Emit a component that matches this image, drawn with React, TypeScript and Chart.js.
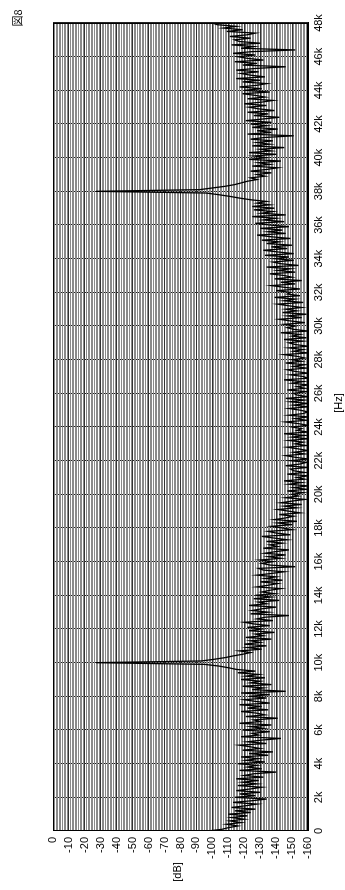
import { useEffect, useRef } from 'react';
import { Chart, registerables } from 'chart.js';

Chart.register(...registerables);

// Spectrum level [dB], one value per 100 Hz step, from 0 Hz to 48 kHz (rows = 1 kHz)
const FREQ_STEP_HZ = 100;
const spectrumDb: number[] = [
  -97, -106, -110, -116, -109, -118, -111, -120, -112, -122,
  -110, -124, -114, -127, -112, -121, -128, -113, -125, -134,
  -114, -127, -117, -130, -115, -124, -131, -116, -128, -119,
  -129, -115, -132, -120, -126, -140, -117, -131, -122, -128,
  -116, -133, -121, -129, -118, -135, -123, -138, -119, -130,
  -124, -117, -134, -122, -131, -143, -118, -129, -125, -136,
  -119, -132, -124, -137, -117, -130, -126, -141, -121, -133,
  -128, -118, -135, -122, -131, -117, -136, -127, -120, -134,
  -123, -136, -118, -146, -125, -132, -119, -137, -124, -130,
  -118, -133, -121, -129, -116, -127, -115, -110, -104, -95,
  -27, -93, -101, -108, -113, -119, -124, -117, -131, -122,
  -134, -120, -130, -124, -137, -121, -132, -127, -139, -123,
  -131, -122, -136, -126, -120, -138, -128, -133, -148, -124,
  -135, -125, -131, -140, -123, -134, -129, -142, -126, -137,
  -127, -139, -131, -136, -143, -128, -135, -141, -130, -144,
  -133, -140, -128, -137, -145, -132, -129, -152, -136, -131,
  -138, -130, -143, -135, -146, -133, -140, -148, -132, -141,
  -136, -144, -134, -147, -139, -131, -149, -140, -135, -150,
  -144, -137, -150, -141, -153, -139, -146, -151, -142, -155,
  -148, -141, -153, -145, -156, -143, -150, -158, -146, -154,
  -150, -157, -147, -159, -151, -160, -148, -156, -145, -158,
  -153, -160, -147, -158, -151, -149, -160, -146, -155, -159,
  -149, -160, -152, -146, -158, -151, -160, -154, -147, -159,
  -152, -157, -148, -160, -150, -158, -145, -160, -153, -156,
  -150, -160, -154, -146, -159, -152, -160, -148, -157, -160,
  -155, -148, -160, -151, -160, -149, -158, -146, -160, -153,
  -151, -159, -147, -158, -153, -160, -150, -157, -145, -160,
  -157, -149, -160, -152, -147, -159, -151, -158, -146, -156,
  -150, -158, -153, -145, -160, -151, -157, -148, -160, -152,
  -148, -157, -145, -159, -150, -155, -143, -160, -151, -147,
  -152, -145, -158, -149, -142, -156, -147, -159, -144, -153,
  -146, -156, -148, -141, -157, -145, -152, -139, -155, -147,
  -149, -140, -155, -145, -137, -152, -143, -156, -139, -150,
  -145, -136, -152, -141, -149, -134, -154, -143, -138, -151,
  -139, -148, -133, -151, -141, -132, -147, -137, -150, -134,
  -142, -131, -149, -137, -128, -146, -135, -144, -130, -148,
  -136, -127, -145, -132, -140, -125, -146, -131, -138, -126,
  -139, -125, -136, -128, -134, -124, -117, -111, -104, -96,
  -27, -92, -100, -108, -114, -118, -122, -128, -124, -133,
  -128, -137, -124, -134, -141, -125, -136, -129, -143, -123,
  -134, -126, -140, -123, -137, -130, -145, -125, -136, -128,
  -138, -124, -133, -151, -122, -137, -128, -141, -125, -134,
  -124, -137, -121, -132, -142, -126, -135, -122, -139, -129,
  -123, -134, -120, -131, -138, -122, -133, -127, -119, -136,
  -120, -131, -117, -128, -134, -119, -130, -115, -133, -124,
  -118, -129, -115, -127, -146, -119, -128, -114, -132, -122,
  -116, -127, -113, -125, -152, -118, -126, -112, -130, -117,
  -114, -124, -111, -122, -127, -109, -119, -107, -115, -103,
  -100,
];

const hzTickValues = [0, 2000, 4000, 6000, 8000, 10000, 12000, 14000, 16000, 18000, 20000, 22000, 24000, 26000, 28000, 30000, 32000, 34000, 36000, 38000, 40000, 42000, 44000, 46000, 48000];
const hzTickLabels = ['0', '2k', '4k', '6k', '8k', '10k', '12k', '14k', '16k', '18k', '20k', '22k', '24k', '26k', '28k', '30k', '32k', '34k', '36k', '38k', '40k', '42k', '44k', '46k', '48k'];
const dbTickValues = [0, -10, -20, -30, -40, -50, -60, -70, -80, -90, -100, -110, -120, -130, -140, -150, -160];
const dbTickLabels = ['0', '-10', '-20', '-30', '-40', '-50', '-60', '-70', '-80', '-90', '-100', '-110', '-120', '-130', '-140', '-150', '-160'];

const FIG_LABEL = '図8';
const X_TITLE = '[Hz]';
const Y_TITLE = '[dB]';

const W = 890;
const H = 345;
const FONT = '"Liberation Sans", Arial, sans-serif';

export default function App() {
  const ref = useRef<HTMLCanvasElement | null>(null);

  useEffect(() => {
    const canvas = ref.current;
    if (!canvas) return;
    const points = spectrumDb.map((v, i) => ({ x: i * FREQ_STEP_HZ, y: v }));

    const textPlugin = {
      id: 'extraText',
      afterDraw(chart: any) {
        const { ctx, chartArea } = chart;
        const { left, right, top, bottom } = chartArea;
        ctx.save();
        ctx.strokeStyle = '#000';
        ctx.lineWidth = 1;
        ctx.strokeRect(Math.round(left) + 0.5, Math.round(top) + 0.5, Math.round(right - left) - 1, Math.round(bottom - top) - 1);
        ctx.fillStyle = '#000';
        ctx.textAlign = 'center';
        ctx.textBaseline = 'middle';
        ctx.font = '11px ' + FONT;
        ctx.fillText(Y_TITLE, 18, 178);
        ctx.fillText(X_TITLE, 487, 339);
        ctx.font = '11px "Noto Sans CJK JP", sans-serif';
        ctx.fillText(FIG_LABEL, 872, 18);
        ctx.restore();
      },
    };

    const chart = new Chart(canvas, {
      type: 'line',
      data: {
        datasets: [
          {
            data: points,
            borderColor: '#000',
            borderWidth: 1.3,
            pointRadius: 0,
            tension: 0,
            fill: false,
          },
        ],
      },
      options: {
        responsive: false,
        animation: false,
        events: [],
        layout: { padding: { top: 53, right: 23, left: 0, bottom: 0 } },
        plugins: { legend: { display: false }, tooltip: { enabled: false } },
        scales: {
          x: {
            type: 'linear',
            min: 0,
            max: 48000,
            afterFit(scale: any) {
              scale.height = 37;
            },
            afterBuildTicks(scale: any) {
              scale.ticks = hzTickValues.map((v) => ({ value: v }));
            },
            ticks: {
              autoSkip: false,
              maxRotation: 0,
              minRotation: 0,
              padding: 4,
              color: '#000',
              font: { family: FONT, size: 11 },
              callback: (v: any) => {
                const i = hzTickValues.indexOf(Number(v));
                return i >= 0 ? hzTickLabels[i] : '';
              },
            },
            grid: { color: '#222', lineWidth: 1, drawTicks: false },
            border: { display: true, color: '#000' },
          },
          y: {
            type: 'linear',
            min: -160,
            max: 0,
            afterFit(scale: any) {
              scale.width = 59;
            },
            ticks: {
              stepSize: 1,
              maxTicksLimit: 1000,
              autoSkip: false,
              padding: 6,
              color: '#000',
              font: { family: FONT, size: 11 },
              callback: (v: any) => {
                const i = dbTickValues.indexOf(Number(v));
                return i >= 0 ? dbTickLabels[i] : '';
              },
            },
            grid: {
              drawTicks: false,
              lineWidth: 1,
              color: (c: any) => (c.tick && c.tick.value % 10 === 0 ? '#333' : '#8a8a8a'),
            },
            border: { display: true, color: '#000' },
          },
        },
      },
      plugins: [textPlugin],
    });
    return () => chart.destroy();
  }, []);

  return (
    <div
      style={{
        position: 'fixed',
        left: 0,
        top: 0,
        width: W,
        height: H,
        transformOrigin: 'top left',
        transform: `translate(0px, ${W}px) rotate(-90deg)`,
        background: '#fff',
      }}
    >
      <canvas ref={ref} width={W} height={H} style={{ display: 'block' }} />
    </div>
  );
}
